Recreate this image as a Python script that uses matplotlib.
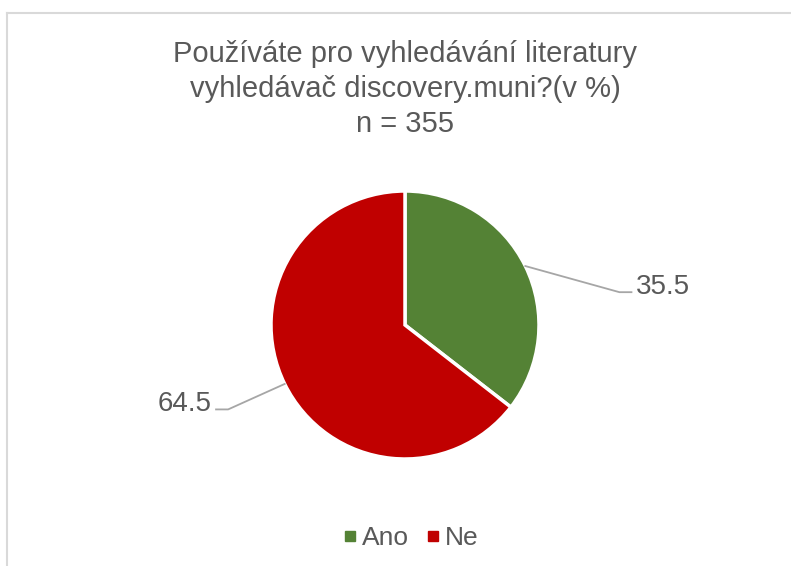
import numpy as np
import matplotlib as mpl
import matplotlib.pyplot as plt
from matplotlib.lines import Line2D

mpl.use("Agg")

categories = ["Ano", "Ne"]
values = [35.5, 64.5]
colors = ["#548235", "#C00000"]
title = "Používáte pro vyhledávání literatury\nvyhledávač discovery.muni?(v %)\nn = 355"

plt.rcParams["font.family"] = ["Liberation Sans", "DejaVu Sans"]
text_color = "#595959"
line_color = "#A6A6A6"

W, H = 791, 566
fig = plt.figure(figsize=(W / 100, H / 100), dpi=100)

# border (only top and left visible in the reference)
fig.add_artist(Line2D([7 / W, 1], [1 - 13 / H, 1 - 13 / H], color="#D9D9D9", lw=1.5,
                      transform=fig.transFigure))
fig.add_artist(Line2D([7 / W, 7 / W], [0, 1 - 13 / H], color="#D9D9D9", lw=1.5,
                      transform=fig.transFigure))

# pie axes: center (405, 325) px, radius 134 px
cx, cy, r = 405, 325, 134
ax = fig.add_axes([(cx - r) / W, (H - cy - r) / H, 2 * r / W, 2 * r / H])
wedges, _ = ax.pie(values, colors=colors, startangle=90, counterclock=False,
                   radius=1, wedgeprops=dict(edgecolor="white", linewidth=2.5))
ax.set_xlim(-1, 1)
ax.set_ylim(-1, 1)
ax.set_aspect("equal")
ax.axis("off")

# leader lines + labels
for w, v in zip(wedges, values):
    ang = np.deg2rad((w.theta1 + w.theta2) / 2)
    x0, y0 = np.cos(ang), np.sin(ang)
    side = 1 if x0 > 0 else -1
    if side > 0:
        ex, ey = 1.60, y0 - 0.195
    else:
        ex, ey = -1.32, y0 - 0.19
    hx = ex + side * 0.09
    ax.plot([x0, ex, hx], [y0, ey, ey], color=line_color, lw=1.3, clip_on=False)
    ax.text(hx + side * 0.035, ey - 0.01, f"{v:.1f}", ha="left" if side > 0 else "right",
            va="baseline", fontsize=20, color=text_color)

fig.text(405 / W, 1 - 89 / H, title, ha="center", va="center", fontsize=21,
         color=text_color, linespacing=1.33)

handles = [Line2D([], [], marker="s", ls="", markersize=7, color=c) for c in colors]
fig.legend(handles, categories, loc="center", bbox_to_anchor=(409 / W, 1 - 538 / H),
           ncol=2, frameon=False, fontsize=19, labelcolor=text_color,
           handletextpad=0.05, columnspacing=0.5, handlelength=0.8)

plt.savefig("out.png", dpi=100)
